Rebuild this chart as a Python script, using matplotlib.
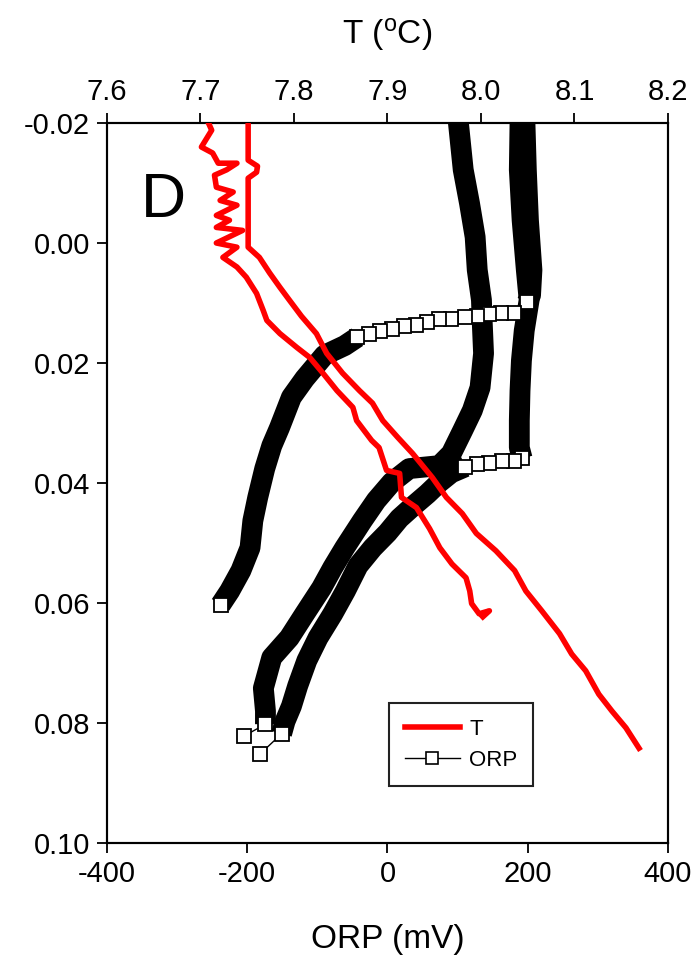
import numpy as np
import matplotlib
matplotlib.use('Agg')
import matplotlib.pyplot as plt
from matplotlib.lines import Line2D

plt.rcParams['font.family'] = ['Liberation Sans', 'DejaVu Sans']
plt.rcParams['mathtext.fontset'] = 'custom'
plt.rcParams['mathtext.rm'] = 'Liberation Sans'
plt.rcParams['axes.unicode_minus'] = False

# temperature profiles: depth (m) and T (deg C)
t1_depth = [-0.0202, -0.0188, -0.0160, -0.0150, -0.0133, -0.0133, -0.0122, -0.0113,
            -0.0093, -0.0085, -0.0071, -0.0063, -0.0046, -0.0038, -0.0026, -0.0021,
            0.0000, 0.0007, 0.0024, 0.0040, 0.0057, 0.0084, 0.0112, 0.0129, 0.0151,
            0.0174, 0.0191, 0.0217, 0.0246, 0.0274, 0.0296, 0.0329, 0.0341, 0.0379,
            0.0384, 0.0424, 0.0441, 0.0476, 0.0508, 0.0535, 0.0558, 0.0580, 0.0601,
            0.0618, 0.0613, 0.0623]
t1_temp = [7.708, 7.712, 7.701, 7.713, 7.719, 7.739, 7.728, 7.715,
           7.717, 7.735, 7.721, 7.739, 7.717, 7.731, 7.717, 7.745,
           7.717, 7.739, 7.724, 7.739, 7.749, 7.760, 7.767, 7.771, 7.785,
           7.803, 7.817, 7.831, 7.846, 7.863, 7.867, 7.883, 7.891, 7.899,
           7.913, 7.915, 7.931, 7.945, 7.956, 7.969, 7.984, 7.988, 7.990,
           7.998, 8.009, 8.002]

t2_depth = [-0.0202, -0.0138, -0.0128, -0.0118, -0.0108, 0.0007, 0.0024, 0.0050,
            0.0074, 0.0095, 0.0122, 0.0151, 0.0184, 0.0217, 0.0246, 0.0267, 0.0296,
            0.0324, 0.0351, 0.0391, 0.0424, 0.0451, 0.0484, 0.0513, 0.0546, 0.0580,
            0.0613, 0.0651, 0.0685, 0.0713, 0.0752, 0.0780, 0.0808, 0.0842]
t2_temp = [7.751, 7.751, 7.761, 7.760, 7.751, 7.751, 7.763, 7.774,
           7.785, 7.795, 7.808, 7.824, 7.835, 7.852, 7.870, 7.884, 7.895,
           7.911, 7.927, 7.948, 7.963, 7.980, 7.995, 8.016, 8.036, 8.048,
           8.065, 8.084, 8.097, 8.112, 8.126, 8.140, 8.155, 8.169]

# ORP profiles (mV); *_open = samples shown as open squares
orp_a = [101, 108, 117, 125, 128, 134, 135, 137, 132, 121, 107, 91, 74, 31, 6,
         -16, -36, -61, -78, -94, -118, -140, -165, -177, -174, -174, -205]
orp_a_depth = [-0.0202, -0.0122, -0.0066, -0.0010, 0.0045, 0.0095, 0.0129, 0.0184,
               0.0241, 0.0279, 0.0313, 0.0351, 0.0371, 0.0376, 0.0399, 0.0429,
               0.0463, 0.0508, 0.0541, 0.0575, 0.0618, 0.0658, 0.0691, 0.0742,
               0.0780, 0.0802, 0.0822]
orp_a_open = [25, 26]

orp_b = [196, 198, 201, 206, 204, 199, 181, 162, 145, 127, 110, 91, 74, 57, 40,
         23, 6, -11, -27, -43, -61, -90, -118, -137, -154, -165, -175, -185,
         -192, -196, -209, -225, -238]
orp_b_depth = [-0.0202, -0.0122, -0.0038, 0.0045, 0.0087, 0.0099, 0.0116, 0.0117,
               0.0118, 0.0121, 0.0123, 0.0126, 0.0127, 0.0131, 0.0136, 0.0139,
               0.0144, 0.0147, 0.0152, 0.0157, 0.0171, 0.0187, 0.0226, 0.0257,
               0.0308, 0.0338, 0.0376, 0.0424, 0.0463, 0.0508, 0.0546, 0.0580,
               0.0603]
orp_b_open = list(range(5, 20)) + [32]

orp_c = [189, 188, 192, 198, 202, 195, 191, 189, 188, 188, 192, 181, 164, 145,
         127, 111, 91, 74, 57, 37, 17, 0, -21, -42, -60, -78, -99, -115, -128,
         -137, -146, -151, -182]
orp_c_depth = [-0.0202, -0.0122, -0.0038, 0.0045, 0.0095, 0.0146, 0.0196, 0.0246,
               0.0296, 0.0341, 0.0359, 0.0363, 0.0364, 0.0366, 0.0369, 0.0373,
               0.0383, 0.0399, 0.0418, 0.0438, 0.0459, 0.0483, 0.0508, 0.0538,
               0.0580, 0.0618, 0.0658, 0.0696, 0.0738, 0.0772, 0.0797, 0.0818,
               0.0852]
orp_c_open = list(range(10, 16)) + [31, 32]

orp_x_ticks = [-400, -200, 0, 200, 400]
t_ticks = [7.6, 7.7, 7.8, 7.9, 8.0, 8.1, 8.2]
depth_ticks = [-0.02, 0.00, 0.02, 0.04, 0.06, 0.08, 0.10]

BAND_LW = 15      # dense, overlapping squares look like a solid band
SQ_SIZE = 9.4

fig = plt.figure(figsize=(6.91, 9.61), dpi=100)
ax = fig.add_axes([0.1548, 0.1228, 0.8119, 0.7492])

profiles = [(orp_a, orp_a_depth, orp_a_open),
            (orp_b, orp_b_depth, orp_b_open),
            (orp_c, orp_c_depth, orp_c_open)]

# solid bands where samples are packed tightly
for x, y, open_idx in profiles:
    is_open = np.zeros(len(x), bool)
    is_open[open_idx] = True
    runs, cur = [], [0]
    for i in range(len(x) - 1):
        if is_open[i] and is_open[i + 1]:
            if len(cur) > 1:
                runs.append(cur)
            cur = [i + 1]
        else:
            cur.append(i + 1)
    if len(cur) > 1:
        runs.append(cur)
    for r in runs:
        ax.plot([x[i] for i in r], [y[i] for i in r], color='k', lw=BAND_LW,
                solid_capstyle='butt', solid_joinstyle='round', zorder=2)

# thin connecting line + open squares on the sparse stretches
for x, y, open_idx in profiles:
    ax.plot(x, y, color='k', lw=1, zorder=3)
    ax.plot([x[i] for i in open_idx], [y[i] for i in open_idx], ls='none',
            marker='s', ms=SQ_SIZE, mfc='white', mec='k', mew=1.3, zorder=4)

ax.set_xlim(-400, 400)
ax.set_ylim(0.10, -0.02)
ax.set_xticks(orp_x_ticks)
ax.set_yticks(depth_ticks)
ax.set_yticklabels([f'{v:.2f}' for v in depth_ticks])
ax.set_xlabel('ORP (mV)', fontsize=24, labelpad=26)
ax.tick_params(axis='both', direction='out', length=7, width=1.3,
               labelsize=21, pad=5)
ax.tick_params(axis='x', top=False)

ax2 = ax.twiny()
ax2.plot(t1_temp, t1_depth, color='#ff0000', lw=4, zorder=5)
ax2.plot(t2_temp, t2_depth, color='#ff0000', lw=4, zorder=5)
ax2.set_xlim(7.6, 8.2)
ax2.set_xticks(t_ticks)
ax2.set_xticklabels([f'{v:.1f}' for v in t_ticks])
ax2.set_xlabel('T ($\\mathregular{^o}$C)', fontsize=24, labelpad=25)
ax2.tick_params(axis='x', direction='out', length=7, width=1.3,
                labelsize=21, pad=5)

for a in (ax, ax2):
    for s in a.spines.values():
        s.set_linewidth(1.5)

ax.text(0.1, 0.869, 'D', transform=ax.transAxes, fontsize=45,
        ha='center', va='baseline')

handles = [Line2D([], [], color='#ff0000', lw=4),
           Line2D([], [], color='k', lw=1, marker='s', ms=8, mfc='white',
                  mec='k', mew=1.2)]
leg = ax2.legend(handles, ['T', 'ORP'], loc='upper left',
                 bbox_to_anchor=(389 / 691, 1 - 703 / 961),
                 bbox_transform=fig.transFigure, borderaxespad=0,
                 fontsize=16, frameon=True, fancybox=False, framealpha=1,
                 edgecolor='#222222', handlelength=2.5, handletextpad=0.4,
                 borderpad=0.7, labelspacing=0.45, numpoints=1)
leg.get_frame().set_linewidth(1.5)

fig.savefig('out.png', dpi=100)
